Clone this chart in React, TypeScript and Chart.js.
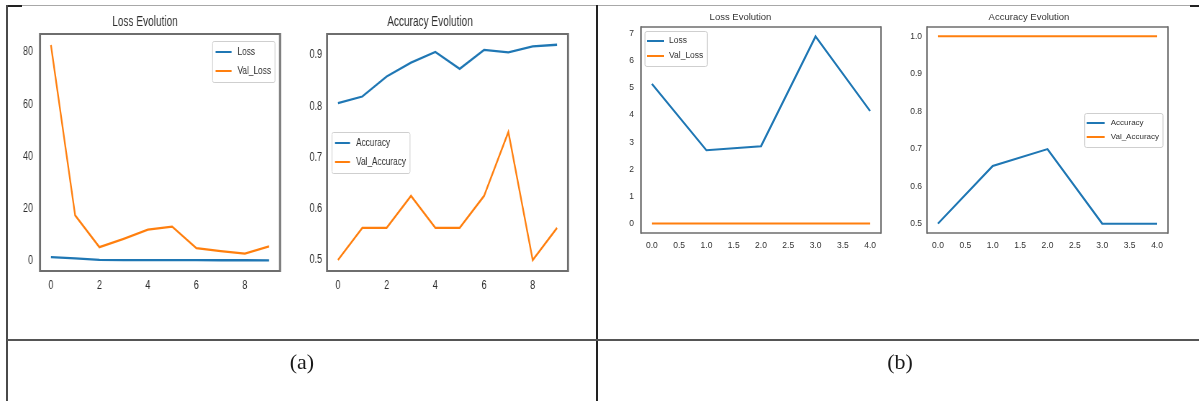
import React, { useEffect, useRef } from "react";
import { Chart, registerables } from "chart.js";

Chart.register(...registerables);

const BLUE = "#1f77b4";
const ORANGE = "#ff7f0e";

// ---------- Data (a) ----------
const epochsA = [0, 1, 2, 3, 4, 5, 6, 7, 8, 9];
const lossA = [1.3, 0.8, 0.2, 0.12, 0.1, 0.1, 0.1, 0.08, 0.08, 0.06];
const valLossA = [82.7, 17.3, 5.1, 8.3, 11.8, 13.0, 4.7, 3.6, 2.6, 5.4];
const accA = [0.806, 0.819, 0.858, 0.885, 0.906, 0.873, 0.91, 0.905, 0.917, 0.92];
const valAccA = [0.5, 0.5625, 0.5625, 0.625, 0.5625, 0.5625, 0.625, 0.75, 0.5, 0.5625];
const xTicksA = [0, 2, 4, 6, 8];
const yTicksLossA = [0, 20, 40, 60, 80];
const yTicksAccA = [0.5, 0.6, 0.7, 0.8, 0.9];

// ---------- Data (b) ----------
const epochsB = [0, 1, 2, 3, 4];
const lossB = [5.15, 2.7, 2.85, 6.9, 4.15];
const valLossB = [0, 0, 0, 0, 0];
const accB = [0.5, 0.654, 0.699, 0.5, 0.5];
const valAccB = [1, 1, 1, 1, 1];
const xTicksB = [0, 0.5, 1, 1.5, 2, 2.5, 3, 3.5, 4];
const yTicksLossB = [0, 1, 2, 3, 4, 5, 6, 7];
const yTicksAccB = [0.5, 0.6, 0.7, 0.8, 0.9, 1.0];

const SANS = "'Liberation Sans', Arial, sans-serif";

const mplPlugin = {
  id: "mplFrame",
  afterDraw(chart: any, _args: any, opts: any) {
    const { ctx, chartArea: ca } = chart;
    const sx = opts.sx;
    ctx.save();
    ctx.strokeStyle = opts.frameColor;
    ctx.lineWidth = opts.frameWidth;
    ctx.beginPath();
    ctx.moveTo(ca.left, ca.top);
    ctx.lineTo(ca.right, ca.top);
    ctx.moveTo(ca.left, ca.bottom);
    ctx.lineTo(ca.right, ca.bottom);
    ctx.stroke();
    ctx.lineWidth = opts.frameWidth / sx;
    ctx.beginPath();
    ctx.moveTo(ca.left, ca.top - opts.frameWidth / 2);
    ctx.lineTo(ca.left, ca.bottom + opts.frameWidth / 2);
    ctx.moveTo(ca.right, ca.top - opts.frameWidth / 2);
    ctx.lineTo(ca.right, ca.bottom + opts.frameWidth / 2);
    ctx.stroke();

    const L = opts.legend;
    ctx.font = `${L.size}px ${L.family}`;
    const items = chart.data.datasets.map((d: any) => ({ label: d.label, color: d.borderColor }));
    const textW = Math.max(...items.map((i: any) => ctx.measureText(i.label).width));
    const padL = L.padL / sx;
    const padR = L.padR / sx;
    const sample = L.sample / sx;
    const gap = L.gap / sx;
    const w = padL + sample + gap + textW + padR;
    const h = L.padT * 2 + items.length * L.rowH;
    const x = L.anchor.includes("right") ? ca.right - L.marginX / sx - w : ca.left + L.marginX / sx;
    const y = L.anchor.includes("upper") ? ca.top + L.marginY : (ca.top + ca.bottom) / 2 - h / 2;
    ctx.beginPath();
    ctx.roundRect(x, y + 0.5, w, h, 2);
    ctx.fillStyle = "rgba(255,255,255,0.85)";
    ctx.fill();
    ctx.strokeStyle = "#cfcfcf";
    ctx.lineWidth = 1;
    ctx.stroke();
    items.forEach((it: any, i: number) => {
      const cy = y + L.padT + L.rowH * (i + 0.5);
      ctx.beginPath();
      ctx.strokeStyle = it.color;
      ctx.lineWidth = 2;
      ctx.moveTo(x + padL, cy);
      ctx.lineTo(x + padL + sample, cy);
      ctx.stroke();
      ctx.fillStyle = L.color;
      ctx.textBaseline = "middle";
      ctx.textAlign = "left";
      ctx.fillText(it.label, x + padL + sample + gap, cy);
    });
    ctx.restore();
  },
};

function SubChart({ spec }: { spec: any }) {
  const ref = useRef<HTMLCanvasElement | null>(null);
  const sx: number = spec.sx;
  const innerW = Math.round(spec.width / sx);
  useEffect(() => {
    if (!ref.current) return;
    const tickFont = { family: spec.family, size: spec.tickSize };
    const chart = new Chart(ref.current, {
      type: "line",
      data: {
        datasets: spec.series.map((s: any) => ({
          label: s.label,
          data: spec.x.map((xv: number, i: number) => ({ x: xv, y: s.data[i] })),
          borderColor: s.color,
          backgroundColor: s.color,
          borderWidth: spec.lineWidth,
          pointRadius: 0,
          tension: 0,
          clip: 4,
        })),
      },
      options: {
        animation: false,
        responsive: false,
        events: [],
        layout: { padding: { left: 0, right: innerW - spec.areaRight / sx, top: 0, bottom: 0 } },
        plugins: {
          legend: { display: false },
          tooltip: { enabled: false },
          title: {
            display: true,
            text: spec.title,
            color: spec.textColor,
            font: { family: spec.family, size: spec.titleSize, weight: "normal", lineHeight: 1.2 },
            padding: { top: spec.titlePad[0], bottom: spec.titlePad[1] },
          },
          mplFrame: { frameColor: "#6e6e6e", frameWidth: spec.frameWidth, legend: spec.legend, sx },
        } as any,
        scales: {
          x: {
            type: "linear",
            min: spec.xMin,
            max: spec.xMax,
            grid: { display: false, drawTicks: false },
            border: { display: false },
            afterBuildTicks: (s: any) => {
              s.ticks = spec.xTicks.map((v: number) => ({ value: v }));
            },
            afterFit: (s: any) => {
              s.height = spec.xH;
            },
            ticks: {
              font: tickFont,
              color: spec.textColor,
              padding: spec.xPad,
              maxRotation: 0,
              autoSkip: false,
              callback: (v: any) => Number(v).toFixed(spec.xDec),
            },
          },
          y: {
            type: "linear",
            min: spec.yMin,
            max: spec.yMax,
            grid: { display: false, drawTicks: false },
            border: { display: false },
            afterBuildTicks: (s: any) => {
              s.ticks = spec.yTicks.map((v: number) => ({ value: v }));
            },
            afterFit: (s: any) => {
              s.width = spec.areaLeft / sx;
            },
            ticks: {
              font: tickFont,
              color: spec.textColor,
              padding: spec.yPad / sx,
              autoSkip: false,
              callback: (v: any) => Number(v).toFixed(spec.yDec),
            },
          },
        },
      } as any,
      plugins: [mplPlugin as any],
    });
    return () => chart.destroy();
  }, [spec]);
  return (
    <canvas
      ref={ref}
      width={innerW}
      height={spec.height}
      style={{
        position: "absolute",
        left: spec.left,
        top: spec.top,
        width: innerW,
        height: spec.height,
        transform: `scaleX(${sx})`,
        transformOrigin: "left top",
      }}
    />
  );
}

// areaLeft / areaRight are on-page pixels measured from the canvas' left edge
const specA1: any = {
  left: 10, top: 8, width: 280, height: 290, sx: 0.72,
  areaLeft: 30, areaRight: 270, textColor: "#2e2e2e",
  title: "Loss Evolution", titleSize: 14, titlePad: [5.6, 3.6], family: SANS, tickSize: 12.5,
  xH: 27, xPad: 7, yPad: 7, lineWidth: 2.3,
  x: epochsA,
  series: [
    { label: "Loss", data: lossA, color: BLUE },
    { label: "Val_Loss", data: valLossA, color: ORANGE },
  ],
  xMin: -0.45, xMax: 9.45, yMin: -4.05, yMax: 86.9,
  xTicks: xTicksA, yTicks: yTicksLossA, xDec: 0, yDec: 0, frameWidth: 2,
  legend: { anchor: "upper right", marginX: 5, marginY: 7, padL: 3, padR: 4, sample: 16, gap: 6, rowH: 19, padT: 1.5, size: 11.5, family: SANS, color: "#2e2e2e" },
};

const specA2: any = {
  left: 292, top: 8, width: 298, height: 290, sx: 0.72,
  areaLeft: 35, areaRight: 276, textColor: "#2e2e2e",
  title: "Accuracy Evolution", titleSize: 14, titlePad: [5.6, 3.6], family: SANS, tickSize: 12.5,
  xH: 27, xPad: 7, yPad: 5, lineWidth: 2.3,
  x: epochsA,
  series: [
    { label: "Accuracy", data: accA, color: BLUE },
    { label: "Val_Accuracy", data: valAccA, color: ORANGE },
  ],
  xMin: -0.45, xMax: 9.45, yMin: 0.4785, yMax: 0.941,
  xTicks: xTicksA, yTicks: yTicksAccA, xDec: 0, yDec: 1, frameWidth: 2,
  legend: { anchor: "center left", marginX: 5, marginY: 0, padL: 3, padR: 4, sample: 15, gap: 6, rowH: 19, padT: 1.5, size: 11.5, family: SANS, color: "#2e2e2e" },
};

const specB1: any = {
  left: 600, top: 6, width: 290, height: 260, sx: 1,
  areaLeft: 41, areaRight: 281, textColor: "#333",
  title: "Loss Evolution", titleSize: 9.5, titlePad: [5.3, 4.3], family: SANS, tickSize: 8.5,
  xH: 33, xPad: 8, yPad: 7, lineWidth: 2,
  x: epochsB,
  series: [
    { label: "Loss", data: lossB, color: BLUE },
    { label: "Val_Loss", data: valLossB, color: ORANGE },
  ],
  xMin: -0.2, xMax: 4.2, yMin: -0.35, yMax: 7.25,
  xTicks: xTicksB, yTicks: yTicksLossB, xDec: 1, yDec: 0, frameWidth: 1.6,
  legend: { anchor: "upper left", marginX: 4, marginY: 4, padL: 2, padR: 4, sample: 17, gap: 5, rowH: 15, padT: 2.5, size: 8.5, family: SANS, color: "#333" },
};

const specB2: any = {
  left: 890, top: 6, width: 300, height: 260, sx: 1,
  areaLeft: 37, areaRight: 278, textColor: "#333",
  title: "Accuracy Evolution", titleSize: 9.5, titlePad: [5.3, 4.3], family: SANS, tickSize: 8.5,
  xH: 33, xPad: 8, yPad: 5, lineWidth: 2,
  x: epochsB,
  series: [
    { label: "Accuracy", data: accB, color: BLUE },
    { label: "Val_Accuracy", data: valAccB, color: ORANGE },
  ],
  xMin: -0.2, xMax: 4.2, yMin: 0.475, yMax: 1.025,
  xTicks: xTicksB, yTicks: yTicksAccB, xDec: 1, yDec: 1, frameWidth: 1.6,
  legend: { anchor: "center right", marginX: 5, marginY: 0, padL: 2, padR: 4, sample: 18, gap: 6, rowH: 14, padT: 3, size: 8, family: SANS, color: "#333" },
};

const line = (s: React.CSSProperties): React.CSSProperties => ({ position: "absolute", ...s });

const captionStyle: React.CSSProperties = {
  textAlign: "center",
  fontFamily: "'Liberation Serif', 'Times New Roman', serif",
  fontSize: 22,
  lineHeight: "36px",
  color: "#1a1a1a",
};

export default function App() {
  return (
    <div style={{ position: "fixed", left: 0, top: 0, width: 1199, height: 401, background: "#fff", overflow: "hidden" }}>
      <SubChart spec={specA1} />
      <SubChart spec={specA2} />
      <SubChart spec={specB1} />
      <SubChart spec={specB2} />
      <div style={line({ left: 7, top: 5, width: 1192, height: 1, background: "#a8a8a8" })} />
      <div style={line({ left: 7, top: 5, width: 15, height: 2, background: "#222" })} />
      <div style={line({ left: 1190, top: 5, width: 9, height: 2, background: "#222" })} />
      <div style={line({ left: 6, top: 5, width: 2, height: 396, background: "#4a4a4a" })} />
      <div style={line({ left: 596, top: 5, width: 2, height: 396, background: "#222" })} />
      <div style={line({ left: 7, top: 339, width: 1192, height: 2, background: "#555" })} />
      <div style={line({ left: 7, top: 344, width: 590, ...captionStyle })}>(a)</div>
      <div style={line({ left: 598, top: 344, width: 604, ...captionStyle })}>(b)</div>
    </div>
  );
}
